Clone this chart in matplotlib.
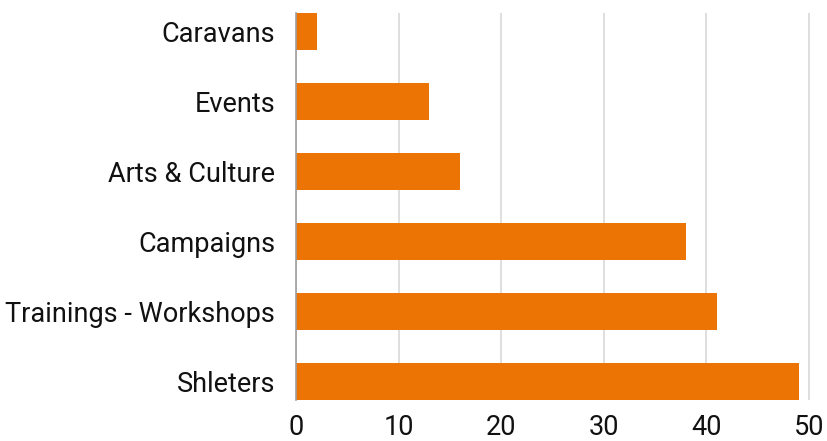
import matplotlib
matplotlib.use("Agg")
import matplotlib.pyplot as plt

categories = ["Caravans", "Events", "Arts & Culture", "Campaigns",
              "Trainings - Workshops", "Shleters"]
values = [2, 13, 16, 38, 41, 49]
xticks = [0, 10, 20, 30, 40, 50]

plt.rcParams['font.family'] = ['Roboto', 'DejaVu Sans']

fig = plt.figure(figsize=(8.28, 4.41), dpi=100)
ax = fig.add_axes([296/828, 1-400/441, (828-296)/828, (400-13)/441])

ypos = list(range(len(categories)))
ax.barh(ypos, values, height=0.53, color='#EC7404', zorder=3)
ax.set_ylim(len(categories) - 1 + 0.265, -0.265)
ax.set_xlim(0, 51.85)
ax.set_yticks(ypos)
ax.set_yticklabels(categories)
ax.set_xticks(xticks)
ax.set_xticklabels([str(t) for t in xticks])
ax.tick_params(axis='both', length=0, labelsize=19.5, colors='#111111')
ax.tick_params(axis='y', pad=15)
ax.tick_params(axis='x', pad=10)
ax.grid(axis='x', color='#d9d9d9', linewidth=1.2, zorder=0)
for s in ['top', 'right', 'bottom']:
    ax.spines[s].set_visible(False)
ax.spines['left'].set_color('#9e9e9e')
ax.spines['left'].set_linewidth(1.2)
ax.spines['left'].set_zorder(4)

fig.savefig("out.png", dpi=100)
